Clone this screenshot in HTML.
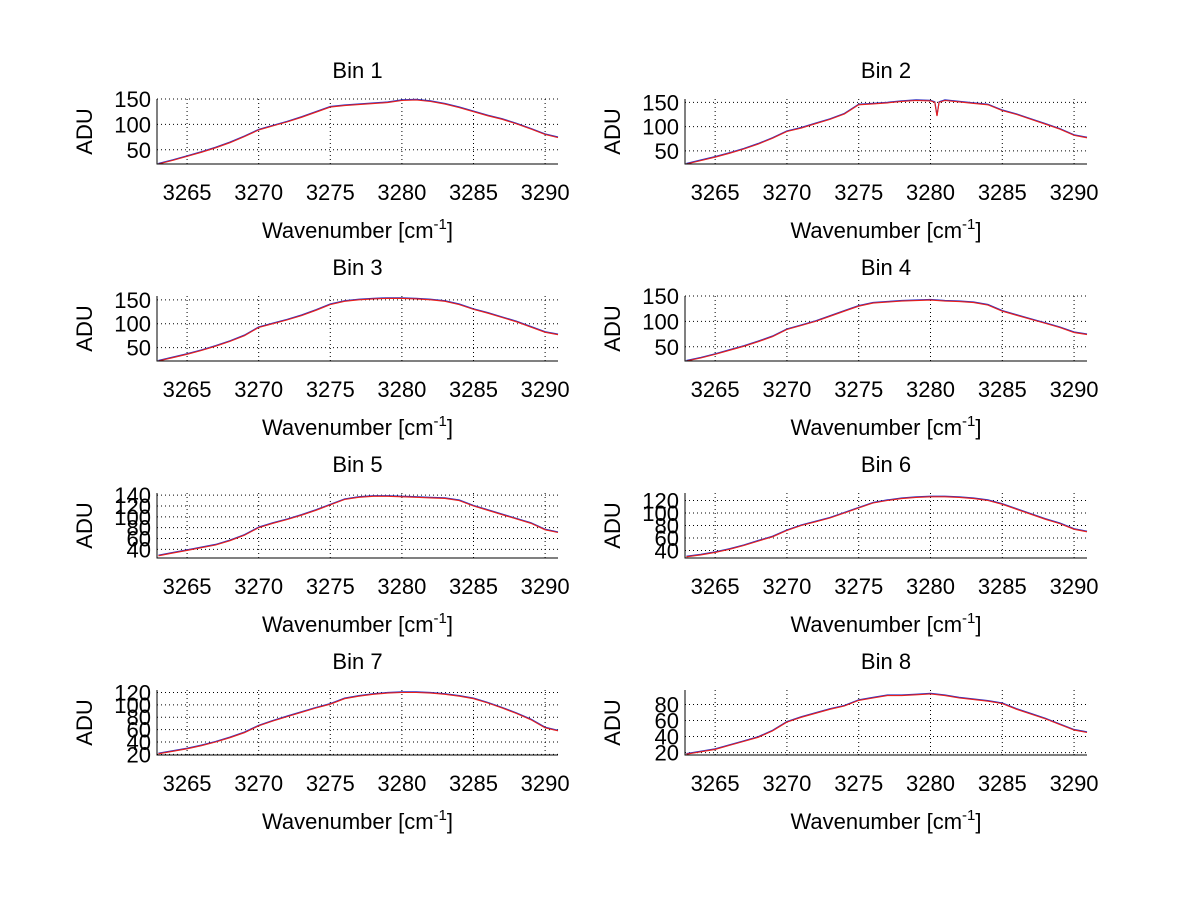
<!DOCTYPE html>
<html><head><meta charset="utf-8"><style>
html,body{margin:0;padding:0;background:#fff;}
svg{display:block;font-family:"Liberation Sans",Arial,sans-serif;}
</style></head><body>
<svg id="fig" width="1200" height="901" viewBox="0 0 1200 901" xmlns="http://www.w3.org/2000/svg"></svg>
<script>
const xTicks = [3265,3270,3275,3280,3285,3290];
const xMin = 3262.9, xMax = 3290.9;
const xs = [3263,3264,3265,3266,3267,3268,3269,3270,3271,3272,3273,3274,3275,3276,3277,3278,3279,3280,3281,3282,3283,3284,3285,3286,3287,3288,3289,3290,3291];
const bin2X = [3263,3264,3265,3266,3267,3268,3269,3270,3271,3272,3273,3274,3275,3276,3277,3278,3279,3280,3280.3,3280.45,3280.6,3281,3282,3283,3284,3285,3286,3287,3288,3289,3290,3291];
const bin1 = [22,29,37,45,54,64,76,89,97,105,114,124,134,137,139,141,143,147,148,145,140,133,125,117,110,101,91,80,74];
const bin2 = [23,30,37,45,54,64,76,90,97,106,115,126,145,147,149,152,154,153,150,122,150,154,151,148,145,133,125,115,105,95,82,77];
const bin3 = [22,29,36,44,53,63,75,92,100,108,117,128,140,147,150,152,153,153,152,150,147,140,130,122,113,104,93,82,77];
const bin4 = [22,28,35,43,51,60,70,84,92,100,110,120,130,136,138,140,141,142,140,139,137,132,120,112,104,96,88,78,74];
const bin5 = [28,33,38,43,48,56,66,80,88,95,103,112,122,132,136,138,138,137,136,135,134,130,120,112,104,96,88,76,71];
const bin6 = [30,33,37,42,48,55,62,72,80,86,92,100,108,116,120,123,125,126,126,125,123,120,114,106,98,90,83,74,70];
const bin7 = [21,25,29,34,40,47,55,66,74,81,88,95,101,110,114,117,119,120,120,119,117,114,110,103,95,86,76,63,58];
const bin8 = [18,21,24,29,34,39,47,58,64,69,74,78,85,88,91,91,92,93,91,88,86,84,81,74,68,62,55,48,45];
const binNames = ["Bin 1","Bin 2","Bin 3","Bin 4","Bin 5","Bin 6","Bin 7","Bin 8"];
const binSeries = [bin1,bin2,bin3,bin4,bin5,bin6,bin7,bin8];
const binX = [xs,bin2X,xs,xs,xs,xs,xs,xs];
const yLims = [[22,150],[23,157],[22,158],[22,150],[24,144],[28,132],[19,124],[17,98]];
const yTicks = [[50,100,150],[50,100,150],[50,100,150],[50,100,150],[40,60,80,100,120,140],[40,60,80,100,120],[20,40,60,80,100,120],[20,40,60,80]];

const NS="http://www.w3.org/2000/svg";
const svg=document.getElementById('fig');
function mk(tag,attrs,parent){const e=document.createElementNS(NS,tag);for(const k in attrs)e.setAttribute(k,attrs[k]);(parent||svg).appendChild(e);return e;}
const colX=[157,685], colW=[401,402], rowY=[99,296,493,690], H=65;
for(let i=0;i<8;i++){
  const c=i%2, r=Math.floor(i/2);
  const L=colX[c], W=colW[c], T=rowY[r], B=T+H;
  const g=mk('g',{});
  
  
  const sx=v=>L+(v-xMin)/(xMax-xMin)*W;
  const [y0,y1]=yLims[i];
  const sy=v=>B-(v-y0)/(y1-y0)*H;
  // grid
  xTicks.forEach(t=>{const l=mk('line',{x1:sx(t),x2:sx(t),y1:T,y2:B,stroke:'#000','stroke-width':1,'stroke-dasharray':'1,3'},g);
    
    const tx=mk('text',{x:sx(t),y:B+36,'font-size':22,'text-anchor':'middle'},g);tx.textContent=t;
    });
  yTicks[i].forEach(t=>{const l=mk('line',{x1:L,x2:L+W,y1:sy(t),y2:sy(t),stroke:'#000','stroke-width':1,'stroke-dasharray':'1,3'},g);
    
    const tx=mk('text',{x:L-6,y:sy(t)+8,'font-size':22,'text-anchor':'end'},g);tx.textContent=t;
    });
  // series
  const xv=binX[i], yv=binSeries[i];
  const pts=xv.map((x,k)=>sx(Math.min(Math.max(x,xMin),xMax)).toFixed(1)+','+sy(yv[k]).toFixed(1)).join(' ');
  const pb=mk('polyline',{points:pts,fill:'none',stroke:'#3030c0','stroke-width':1.2,transform:'translate(0,-0.6)'},g);
  
  const pr=mk('polyline',{points:pts,fill:'none',stroke:'#e8201c','stroke-width':1.1},g);
  
  // axes
  const ax=mk('path',{d:`M${L},${T} L${L},${B} L${L+W},${B}`,fill:'none',stroke:'#000','stroke-width':1},g);
  
  const ti=mk('text',{x:L+W/2,y:T-21,'font-size':22,'text-anchor':'middle'},g);ti.textContent=binNames[i];
  
  const xl=mk('text',{x:L+W/2,y:B+74,'font-size':22,'text-anchor':'middle'},g);
  xl.innerHTML='Wavenumber [cm<tspan dy="-9" font-size="15">-1</tspan><tspan dy="9">]</tspan>';
  
  const yl=mk('text',{x:0,y:0,'font-size':22,'text-anchor':'middle',transform:`translate(${L-65},${T+H/2}) rotate(-90)`},g);yl.textContent='ADU';
  
}
</script>
</body></html>
